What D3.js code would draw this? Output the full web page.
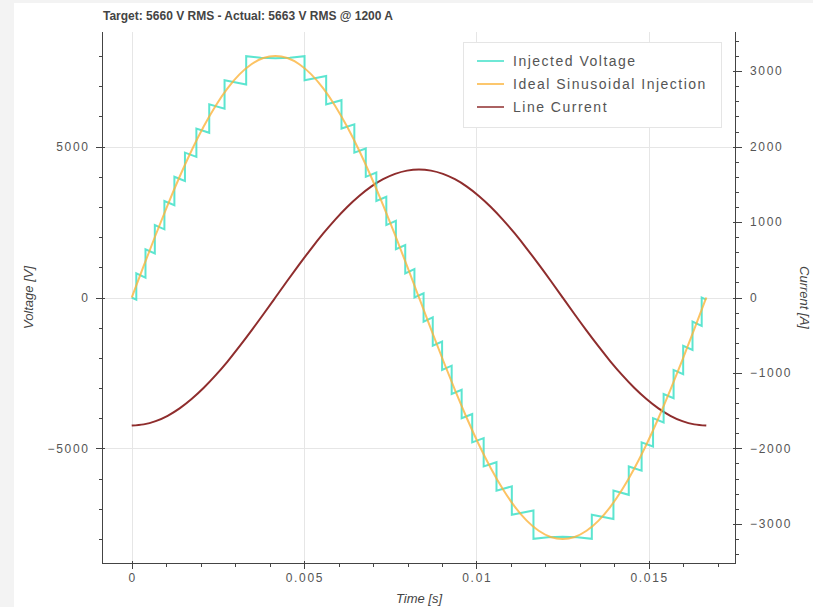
<!DOCTYPE html>
<html><head><meta charset="utf-8">
<script src="https://cdn.jsdelivr.net/npm/d3@7"></script>
<style>
html,body{margin:0;padding:0;background:#f3f3f3;}
svg{display:block;}
text{font-family:"Liberation Sans",Arial,Helvetica,sans-serif;}
</style></head>
<body>
<svg id="c" width="813" height="607"></svg>
<script>
// ---------- data ----------
const titleText = "Target: 5660 V RMS - Actual: 5663 V RMS @ 1200 A";
const seriesNames = ["Injected Voltage", "Ideal Sinusoidal Injection", "Line Current"];
const seriesColors = ["#3fe0c8", "#fbb43c", "#8f2d2d"];

// stepped injected voltage (polyline vertices)
const injT = [0,0.0001326, 0.0001326,0.0003992, 0.0003992,0.0006699, 0.0006699,0.0009480, 0.0009480,0.0012375,
  0.0012375,0.0015439, 0.0015439,0.0018758, 0.0018758,0.0022481, 0.0022481,0.0026929, 0.0026929,0.0033203,
  0.0033203,0.0037435,0.0041667,0.0045899,0.0050130,
  0.0050130,0.0056404, 0.0056404,0.0060852, 0.0060852,0.0064575, 0.0064575,0.0067894, 0.0067894,0.0070958,
  0.0070958,0.0073853, 0.0073853,0.0076634, 0.0076634,0.0079341, 0.0079341,0.0082007, 0.0082007,0.0084659,
  0.0084659,0.0087325, 0.0087325,0.0090032, 0.0090032,0.0092813, 0.0092813,0.0095708, 0.0095708,0.0098772,
  0.0098772,0.0102091, 0.0102091,0.0105814, 0.0105814,0.0110262, 0.0110262,0.0116536,
  0.0116536,0.0120768,0.0125000,0.0129232,0.0133464,
  0.0133464,0.0139738, 0.0139738,0.0144186, 0.0144186,0.0147909, 0.0147909,0.0151228, 0.0151228,0.0154292,
  0.0154292,0.0157187, 0.0157187,0.0159968, 0.0159968,0.0162675, 0.0162675,0.0165341, 0.0165341,0.0166667];
const injV = [0,-70, 800,660, 1600,1460, 2400,2260, 3200,3060,
  4000,3860, 4800,4660, 5600,5460, 6400,6260, 7200,7060,
  8000,7947,7929,7947,8000,
  7200,7340, 6400,6540, 5600,5740, 4800,4940, 4000,4140,
  3200,3340, 2400,2540, 1600,1740, 800,940, 0,140,
  -800,-660, -1600,-1460, -2400,-2260, -3200,-3060, -4000,-3860,
  -4800,-4660, -5600,-5460, -6400,-6260, -7200,-7060,
  -8000,-7947,-7929,-7947,-8000,
  -7200,-7340, -6400,-6540, -5600,-5740, -4800,-4940, -4000,-4140,
  -3200,-3340, -2400,-2540, -1600,-1740, -800,-940, 0,-70];

// ideal sinusoid and line current sampled every 1/48 of a cycle
const sampleT = [0,0.000347,0.000694,0.001042,0.001389,0.001736,0.002083,0.002431,0.002778,0.003125,0.003472,0.003819,
  0.004167,0.004514,0.004861,0.005208,0.005556,0.005903,0.006250,0.006597,0.006944,0.007292,0.007639,0.007986,
  0.008333,0.008681,0.009028,0.009375,0.009722,0.010069,0.010417,0.010764,0.011111,0.011458,0.011806,0.012153,
  0.012500,0.012847,0.013194,0.013542,0.013889,0.014236,0.014583,0.014931,0.015278,0.015625,0.015972,0.016319,0.016667];
const idealV = [0,1045,2072,3063,4002,4873,5660,6350,6932,7395,7731,7936,
  8004,7936,7731,7395,6932,6350,5660,4873,4002,3063,2072,1045,
  0,-1045,-2072,-3063,-4002,-4873,-5660,-6350,-6932,-7395,-7731,-7936,
  -8004,-7936,-7731,-7395,-6932,-6350,-5660,-4873,-4002,-3063,-2072,-1045,0];
const currentA = [-1697,-1682,-1639,-1568,-1470,-1346,-1200,-1033,-849,-649,-439,-222,
  0,222,439,649,849,1033,1200,1346,1470,1568,1639,1682,
  1697,1682,1639,1568,1470,1346,1200,1033,849,649,439,222,
  0,-222,-439,-649,-849,-1033,-1200,-1346,-1470,-1568,-1639,-1682,-1697];

const xMajor = [0,0.005,0.01,0.015];
const xMajorLabels = ["0","0.005","0.01","0.015"];
const xMinor = [0,0.001,0.002,0.003,0.004,0.005,0.006,0.007,0.008,0.009,0.010,0.011,0.012,0.013,0.014,0.015,0.016,0.017];
const yLMajor = [-5000,0,5000];
const yLMinor = [-8000,-7000,-6000,-5000,-4000,-3000,-2000,-1000,0,1000,2000,3000,4000,5000,6000,7000,8000];
const yRMajor = [-3000,-2000,-1000,0,1000,2000,3000];
const yRMinor = [-3400,-3200,-3000,-2800,-2600,-2400,-2200,-2000,-1800,-1600,-1400,-1200,-1000,-800,-600,-400,-200,0,
  200,400,600,800,1000,1200,1400,1600,1800,2000,2200,2400,2600,2800,3000,3200,3400];

// ---------- layout ----------
const svg = d3.select("#c");
const L = 103, R = 735, T = 32, B = 563;
const x = d3.scaleLinear([-0.0008333, 0.0175], [L, R]);
const yL = d3.scaleLinear([-8800, 8800], [B, T]);
const yR = d3.scaleLinear([-3520, 3520], [B, T]);
const fmt = v => (v < 0 ? "\u2212" + Math.abs(v) : String(v));
const LS = 1.7; // tick label letter spacing

svg.append("rect").attr("x", 14).attr("y", 3).attr("width", 813 - 14).attr("height", 607 - 3).attr("fill", "#fff");

// grid
const grid = svg.append("g").attr("stroke", "#e6e6e6").attr("stroke-width", 1);
xMajor.forEach(v => grid.append("line").attr("x1", Math.round(x(v)) + 0.5).attr("x2", Math.round(x(v)) + 0.5).attr("y1", T).attr("y2", B));
yLMajor.forEach(v => grid.append("line").attr("x1", L).attr("x2", R).attr("y1", Math.round(yL(v)) + 0.5).attr("y2", Math.round(yL(v)) + 0.5));

// series
svg.append("clipPath").attr("id", "pc").append("rect").attr("x", L).attr("y", T).attr("width", R - L).attr("height", B - T);
const plot = svg.append("g").attr("clip-path", "url(#pc)");
const injLine = d3.line().x((d, i) => x(injT[i])).y(d => yL(d));
const smoothL = d3.line().x((d, i) => x(sampleT[i])).y(d => yL(d)).curve(d3.curveNatural);
const smoothR = d3.line().x((d, i) => x(sampleT[i])).y(d => yR(d)).curve(d3.curveNatural);

plot.append("path").attr("d", smoothR(currentA)).attr("fill", "none").attr("stroke", seriesColors[2]).attr("stroke-width", 2);
plot.append("path").attr("d", injLine(injV)).attr("fill", "none").attr("stroke", seriesColors[0]).attr("stroke-width", 2).attr("stroke-opacity", 0.85);
plot.append("path").attr("d", smoothL(idealV)).attr("fill", "none").attr("stroke", seriesColors[1]).attr("stroke-width", 2).attr("stroke-opacity", 0.8);

// axes
const axCol = "#444";
const ax = svg.append("g").attr("stroke", axCol).attr("stroke-width", 1);
ax.append("line").attr("x1", L).attr("x2", R + 0.5).attr("y1", B + 0.5).attr("y2", B + 0.5);
xMinor.forEach(v => ax.append("line").attr("x1", Math.round(x(v)) + 0.5).attr("x2", Math.round(x(v)) + 0.5).attr("y1", B).attr("y2", B + 4));
xMajor.forEach(v => ax.append("line").attr("x1", Math.round(x(v)) + 0.5).attr("x2", Math.round(x(v)) + 0.5).attr("y1", B - 2).attr("y2", B + 6));
ax.append("line").attr("x1", L - 0.5).attr("x2", L - 0.5).attr("y1", T).attr("y2", B + 1);
yLMinor.forEach(v => ax.append("line").attr("x1", L - 4).attr("x2", L).attr("y1", Math.round(yL(v)) + 0.5).attr("y2", Math.round(yL(v)) + 0.5));
yLMajor.forEach(v => ax.append("line").attr("x1", L - 7).attr("x2", L + 2).attr("y1", Math.round(yL(v)) + 0.5).attr("y2", Math.round(yL(v)) + 0.5));
ax.append("line").attr("x1", R + 0.5).attr("x2", R + 0.5).attr("y1", T).attr("y2", B + 1);
yRMinor.forEach(v => ax.append("line").attr("x1", R).attr("x2", R + 4).attr("y1", Math.round(yR(v)) + 0.5).attr("y2", Math.round(yR(v)) + 0.5));
yRMajor.forEach(v => ax.append("line").attr("x1", R - 2).attr("x2", R + 7).attr("y1", Math.round(yR(v)) + 0.5).attr("y2", Math.round(yR(v)) + 0.5));

const lab = svg.append("g").attr("fill", "#555").attr("font-size", 12).attr("letter-spacing", LS);
xMajor.forEach((v, i) => lab.append("text").attr("x", x(v) + LS / 2).attr("y", B + 19).attr("text-anchor", "middle").text(xMajorLabels[i]));
yLMajor.forEach(v => lab.append("text").attr("x", L - 15 + LS).attr("y", yL(v)).attr("dy", "0.35em").attr("text-anchor", "end").text(fmt(v)));
yRMajor.forEach(v => lab.append("text").attr("x", R + 15).attr("y", yR(v)).attr("dy", "0.35em").attr("text-anchor", "start").text(fmt(v)));

// axis titles
svg.append("text").attr("x", (L + R) / 2).attr("y", B + 40).attr("text-anchor", "middle").attr("font-size", 13).attr("font-style", "italic").attr("fill", axCol).text("Time [s]");
svg.append("text").attr("transform", `translate(33,${(T + B) / 2}) rotate(-90)`).attr("text-anchor", "middle").attr("font-size", 13).attr("font-style", "italic").attr("fill", axCol).text("Voltage [V]");
svg.append("text").attr("transform", `translate(800,${(T + B) / 2}) rotate(90)`).attr("text-anchor", "middle").attr("font-size", 13).attr("font-style", "italic").attr("fill", axCol).text("Current [A]");

// title
svg.append("text").attr("x", L).attr("y", 20).attr("font-size", 12).attr("font-weight", "bold").attr("fill", axCol).text(titleText);

// legend
const lg = svg.append("g");
lg.append("rect").attr("x", 463.5).attr("y", 42.5).attr("width", 258).attr("height", 85).attr("fill", "#fff").attr("stroke", "#e5e5e5");
seriesNames.forEach((n, i) => {
  const yy = 61 + i * 23;
  lg.append("line").attr("x1", 477).attr("x2", 504).attr("y1", yy).attr("y2", yy).attr("stroke", seriesColors[i]).attr("stroke-width", 2).attr("stroke-opacity", 0.75);
  lg.append("text").attr("x", 513).attr("y", yy).attr("dy", "0.35em").attr("font-size", 14).attr("letter-spacing", 1.5).attr("fill", "#555").text(n);
});
</script>
</body></html>
